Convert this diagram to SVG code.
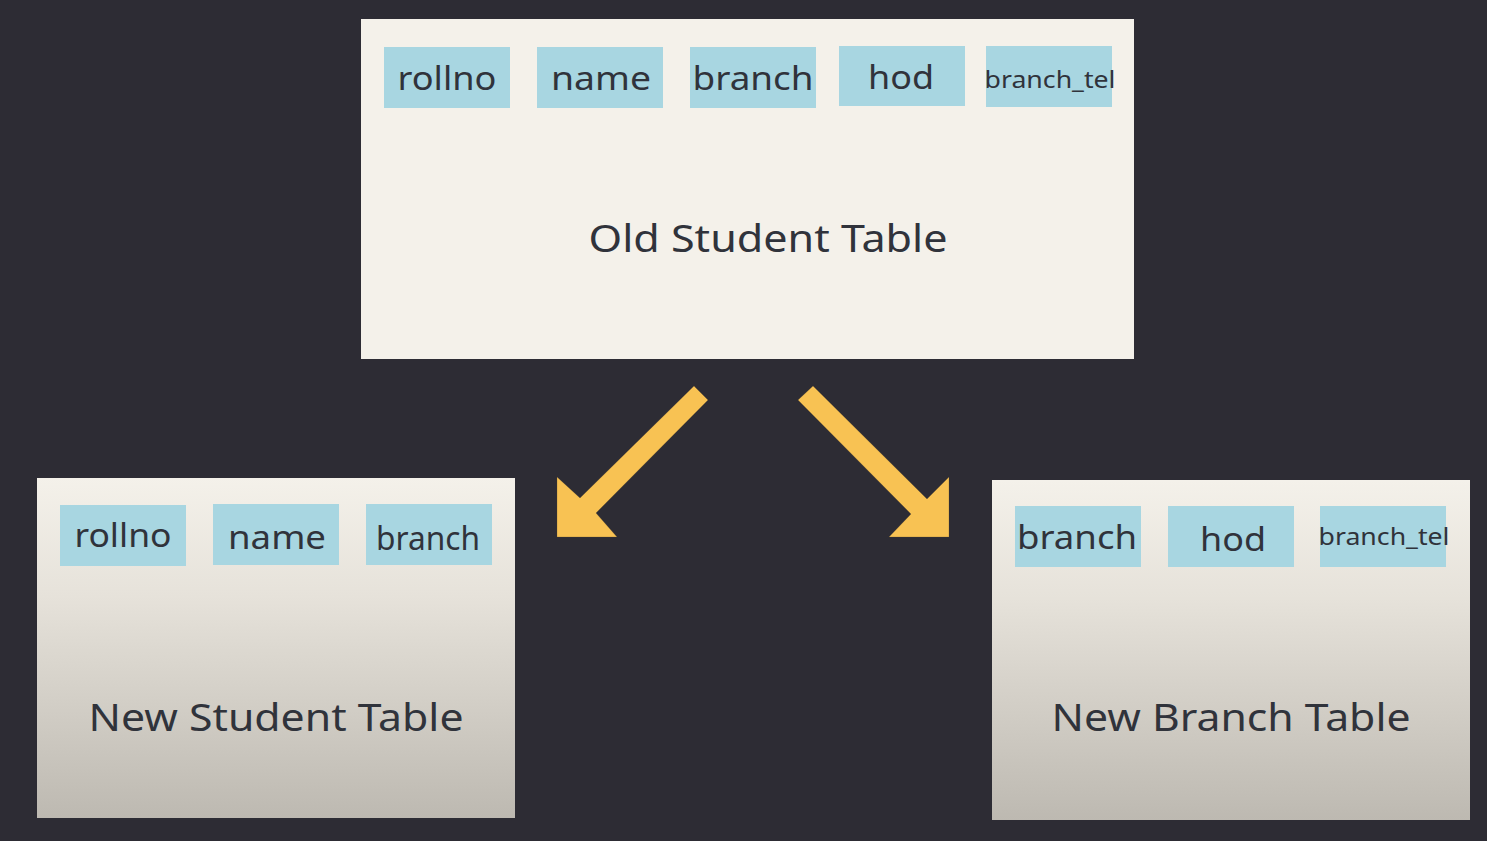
<svg xmlns="http://www.w3.org/2000/svg" width="1487" height="841" viewBox="0 0 1487 841">
<defs>
<linearGradient id="fade" x1="0" y1="0" x2="0" y2="1">
<stop offset="0" stop-color="#f4f1ea"/>
<stop offset="0.35" stop-color="#e6e2da"/>
<stop offset="1" stop-color="#bdb9b1"/>
</linearGradient>
<style>
.tbl{fill:#f4f1ea}
.chip{fill:#a8d6e1}
.t{font-family:"Noto Sans","Open Sans",sans-serif;fill:#30333b;text-anchor:middle}
.f{font-size:33px}
.s{font-size:24px}
.big{font-size:38px}
.arrow{fill:#f8c253;stroke:#5a4a2a;stroke-width:0.6;stroke-opacity:0.4}
</style>
</defs>
<rect x="0" y="0" width="1487" height="841" fill="#2d2c34"/>
<g id="old-student-table">
<rect class="tbl" x="361" y="19" width="773" height="340"/>
<rect class="chip" x="384" y="47" width="126" height="61"/>
<rect class="chip" x="537" y="47" width="126" height="61"/>
<rect class="chip" x="690" y="47" width="126" height="61"/>
<rect class="chip" x="839" y="46" width="126" height="60"/>
<rect class="chip" x="986" y="46" width="126" height="61"/>
<text class="t f" x="447" y="90" textLength="99" lengthAdjust="spacingAndGlyphs">rollno</text>
<text class="t f" x="601" y="90" textLength="100" lengthAdjust="spacingAndGlyphs">name</text>
<text class="t f" x="753" y="90" textLength="121" lengthAdjust="spacingAndGlyphs">branch</text>
<text class="t f" x="901" y="89" textLength="66" lengthAdjust="spacingAndGlyphs">hod</text>
<text class="t s" x="1050" y="88" textLength="131" lengthAdjust="spacingAndGlyphs">branch_tel</text>
<text class="t big" x="768" y="252" textLength="359" lengthAdjust="spacingAndGlyphs">Old Student Table</text>
</g>
<g id="new-student-table">
<rect x="37" y="478" width="478" height="340" fill="url(#fade)"/>
<rect class="chip" x="60" y="505" width="126" height="61"/>
<rect class="chip" x="213" y="504" width="126" height="61"/>
<rect class="chip" x="366" y="504" width="126" height="61"/>
<text class="t f" x="123" y="547" textLength="97" lengthAdjust="spacingAndGlyphs">rollno</text>
<text class="t f" x="277" y="549" textLength="98" lengthAdjust="spacingAndGlyphs">name</text>
<text class="t f" x="428" y="550" textLength="104" lengthAdjust="spacingAndGlyphs">branch</text>
<text class="t big" x="276" y="731" textLength="375" lengthAdjust="spacingAndGlyphs">New Student Table</text>
</g>
<g id="new-branch-table">
<rect x="992" y="480" width="478" height="340" fill="url(#fade)"/>
<rect class="chip" x="1015" y="506" width="126" height="61"/>
<rect class="chip" x="1168" y="506" width="126" height="61"/>
<rect class="chip" x="1320" y="506" width="126" height="61"/>
<text class="t f" x="1077" y="549" textLength="120" lengthAdjust="spacingAndGlyphs">branch</text>
<text class="t f" x="1233" y="551" textLength="66" lengthAdjust="spacingAndGlyphs">hod</text>
<text class="t s" x="1384" y="545" textLength="131" lengthAdjust="spacingAndGlyphs">branch_tel</text>
<text class="t big" x="1231" y="731" textLength="359" lengthAdjust="spacingAndGlyphs">New Branch Table</text>
</g>
<g id="connectors">
<polygon class="arrow" points="694,386 708,400 596,513 617,537 557,537 557,477 580,498"/>
<polygon class="arrow" points="813,386 927,499 949,477 949,537 889,537 911,514 798,400"/>
</g>
</svg>
